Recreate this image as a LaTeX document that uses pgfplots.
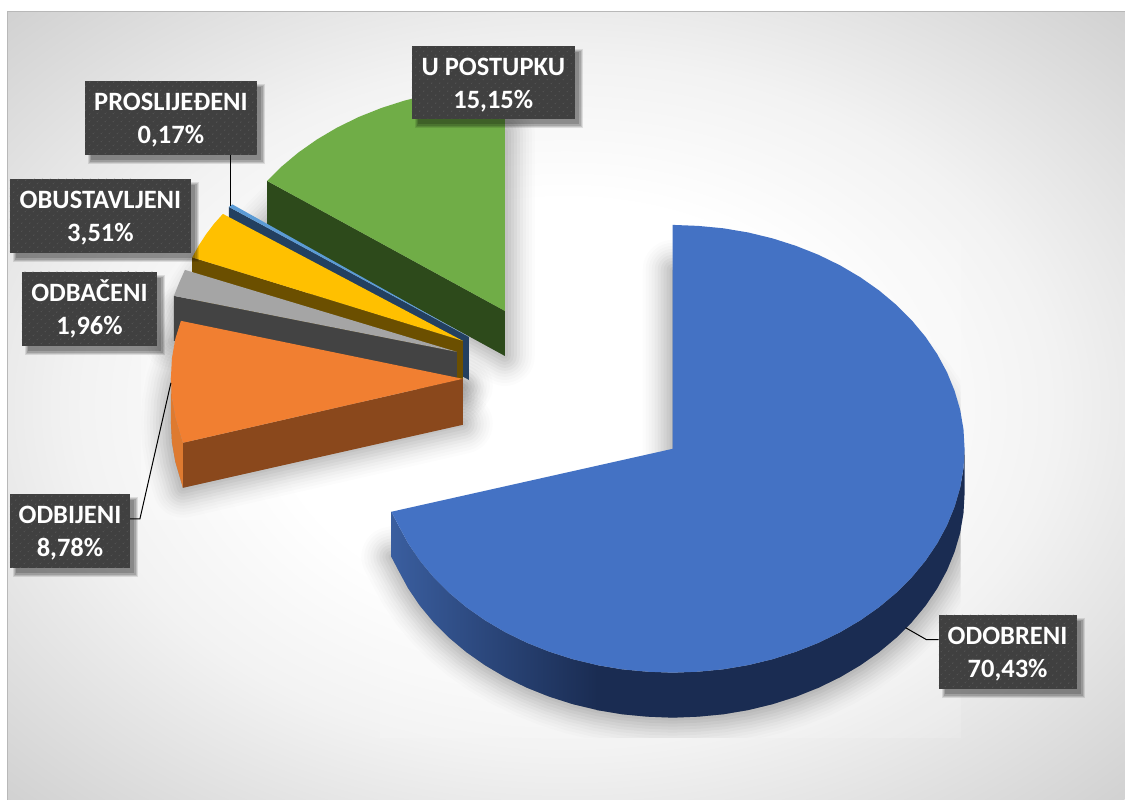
\documentclass[border=0pt]{standalone}
\usepackage{fontspec}
\setmainfont{Carlito}
\usepackage{pgfplots}
\usepackage{pgfplotstable}
\pgfplotsset{compat=1.18}
\usetikzlibrary{patterns.meta}

\definecolor{cblue}{HTML}{4472C4}
\definecolor{cbluedark}{HTML}{1A2C52}
\definecolor{cblueside}{HTML}{3A5E9F}
\definecolor{cgreen}{HTML}{70AD47}
\definecolor{cgreendark}{HTML}{2D4A1B}
\definecolor{cthin}{HTML}{5B9BD5}
\definecolor{cthindark}{HTML}{234060}
\definecolor{cyellow}{HTML}{FFC000}
\definecolor{cyellowdark}{HTML}{6B4F00}
\definecolor{cgray}{HTML}{A5A5A5}
\definecolor{cgraydark}{HTML}{434343}
\definecolor{corange}{HTML}{F17F31}
\definecolor{corangedark}{HTML}{8A481C}
\definecolor{corangeside}{HTML}{DE7A30}
\definecolor{boxgray}{HTML}{404040}
\definecolor{boxdot}{HTML}{5E5E5E}

\pgfdeclareradialshading{pagebg}{\pgfpoint{0bp}{0bp}}{%
  color(0bp)=(white);color(13bp)=(white);
  color(22bp)=(white!95!black);color(35.4bp)=(white!82!black);color(50bp)=(white!75!black);color(53bp)=(white!74!black)}

% slices, in pixels of the picture
\pgfplotstableread{
x y
673 449
673 225
698.5 226
723.7 228.4
748.6 232.6
772.9 238.5
796.4 246
819 255
840.5 265.5
860.7 277.4
879.5 290.6
896.7 305
912.2 320.5
925.9 337
937.6 354.3
947.4 372.4
955 391
960.6 410.1
963.9 429.5
965 449
963.9 468.5
960.6 487.9
955 507
947.4 525.6
937.6 543.7
925.9 561
912.2 577.5
896.7 593
879.5 607.4
860.7 620.6
840.5 632.5
819 643
796.4 652
772.9 659.5
748.6 665.4
723.7 669.6
698.5 672
673 673
647.5 672
622.3 669.6
597.4 665.4
573.1 659.5
549.6 652
527 643
505.5 632.5
485.3 620.6
466.5 607.4
449.3 593
433.8 577.5
420.1 561
408.4 543.7
398.6 525.6
391.5 512
}\odobreni
\pgfplotstableread{
x y
505 311
505 87
479.5 87.9
454.3 90.4
429.4 94.6
405.1 100.5
381.6 108
359 117
337.5 127.5
317.3 139.4
298.5 152.6
281.3 167
267.3 181
}\upostupku
\pgfplotstableread{
x y
469 337
232.5 204.5
229 207
}\proslijedeni
\pgfplotstableread{
x y
463 341
223 214
214 224
206.4 234.1
199 245.3
192.3 257.5
}\obustavljeni
\pgfplotstableread{
x y
457 352
185 270
179.3 282.8
174 296
}\odbaceni
\pgfplotstableread{
x y
463 379
181 321
175.4 339
172 358.5
171 378
172 397.5
175.4 417
183 443
}\odbijeni

\newcommand{\shlayer}[3]{\addplot[draw=black,line width=#2bp,line join=round,opacity=#3,yshift=-45bp] table {#1} --cycle;}
\newcommand{\softshadow}[1]{%
  \shlayer{#1}{60}{.012}\shlayer{#1}{54}{.014}\shlayer{#1}{48}{.017}\shlayer{#1}{42}{.02}
  \shlayer{#1}{36}{.024}\shlayer{#1}{30}{.028}\shlayer{#1}{24}{.03}\shlayer{#1}{18}{.032}
  \shlayer{#1}{12}{.034}\shlayer{#1}{6}{.036}
  \addplot[fill=black,draw=none,opacity=.25,yshift=-45bp] table {#1} --cycle;
}
\newcommand{\lab}[6]{%
  \fill[black,opacity=.10] (axis cs:{#1+3},{#2+3}) rectangle (axis cs:{#3+8},{#4+9});
  \fill[black,opacity=.12] (axis cs:{#1+4},{#2+4}) rectangle (axis cs:{#3+7},{#4+8});
  \fill[black,opacity=.14] (axis cs:{#1+5},{#2+5}) rectangle (axis cs:{#3+6},{#4+7});
  \fill[black,opacity=.16] (axis cs:{#1+6},{#2+6}) rectangle (axis cs:{#3+4},{#4+5});
  \fill[boxgray] (axis cs:#1,#2) rectangle (axis cs:#3,#4);
  \fill[pattern={Dots[distance=6bp,angle=45,radius=.75bp]},pattern color=boxdot]
    (axis cs:#1,#2) rectangle (axis cs:#3,#4);
  \node[anchor=base,white,inner sep=0pt,font=\bfseries\fontsize{26.6}{30}\selectfont]
    at (axis cs:{(#1+#3)/2},{#2+29.5}) {#5};
  \node[anchor=base,white,inner sep=0pt,font=\bfseries\fontsize{26.6}{30}\selectfont]
    at (axis cs:{(#1+#3)/2},{#2+62.5}) {#6};
}

\begin{document}
\begin{tikzpicture}
\begin{axis}[
  scale only axis,
  width=1125bp,height=800bp,
  xmin=0,xmax=1125,ymin=0,ymax=800,
  y dir=reverse,
  hide axis,
  clip=false,
]
  % page, with its white margin
  \addplot[fill=white,draw=none] coordinates {(0,0) (1125,0) (1125,800) (0,800)} --cycle;
  \addplot[shading=pagebg,draw=none] coordinates {(8,12) (1125,12) (1125,800) (8,800)} --cycle;
  \addplot[draw=black!28,line width=1bp] coordinates {(8,800) (8,12) (1125,12)};

  % lighter boxes left by the shadows
  \addplot[fill=white,draw=none,opacity=.25] coordinates {(141,355) (480,355) (480,520) (141,520)} --cycle;
  \addplot[fill=white,draw=none,opacity=.15] coordinates {(380,240) (961,240) (961,738) (380,738)} --cycle;

  % shadows
  \begin{scope}
    \clip (axis cs:141,0) rectangle (axis cs:961,738);
    \softshadow{\upostupku}
    \softshadow{\obustavljeni}
    \softshadow{\odbaceni}
    \softshadow{\odbijeni}
    \softshadow{\odobreni}
  \end{scope}

  % U POSTUPKU
  \addplot[fill=cgreendark,draw=none] coordinates {(505,311) (267.3,181) (267.3,226) (505,356)} --cycle;
  \addplot[fill=cgreen,draw=none] table {\upostupku} --cycle;

  % PROSLIJEDENI
  \addplot[fill=cthindark,draw=none] coordinates {(229,207) (469,337) (469,380) (229,250)} --cycle;
  \addplot[fill=cthin,draw=none] table {\proslijedeni} --cycle;

  % OBUSTAVLJENI
  \addplot[fill=cyellowdark,draw=none] coordinates {(463,341) (192.3,257.5) (192.3,302.5) (463,386)} --cycle;
  \addplot[fill=cyellow,draw=none] table {\obustavljeni} --cycle;

  % ODBACENI
  \addplot[fill=cgraydark,draw=none] coordinates {(457,352) (174,296) (174,341) (457,397)} --cycle;
  \addplot[fill=cgray,draw=none] table {\odbaceni} --cycle;

  % ODBIJENI
  \addplot[fill=corangedark,draw=none] coordinates {(463,379) (183,443) (183,488) (463,425)} --cycle;
  \addplot[fill=corangeside,draw=none] coordinates {(171,378) (172,397.5) (175.4,417) (183,443) (183,488) (175.4,462) (172,442.5) (171,423)} --cycle;
  \addplot[fill=corange,draw=none] table {\odbijeni} --cycle;

  % ODOBRENI
  \addplot[left color=cblueside,right color=cbluedark,draw=none] coordinates {
    (598,665.4) (573.1,659.5) (549.6,652) (527,643) (505.5,632.5) (485.3,620.6) (466.5,607.4)
    (449.3,593) (433.8,577.5) (420.1,561) (408.4,543.7) (398.6,525.6) (391.5,512)
    (391.5,557) (398.6,570.6) (408.4,588.7) (420.1,606) (433.8,622.5) (449.3,638) (466.5,652.4)
    (485.3,665.6) (505.5,677.5) (527,688) (549.6,697) (573.1,704.5) (598,710.4)} --cycle;
  \addplot[fill=cbluedark,draw=none] coordinates {
    (965,449) (963.9,468.5) (960.6,487.9) (955,507) (947.4,525.6) (937.6,543.7) (925.9,561)
    (912.2,577.5) (896.7,593) (879.5,607.4) (860.7,620.6) (840.5,632.5) (819,643) (796.4,652)
    (772.9,659.5) (748.6,665.4) (723.7,669.6) (698.5,672) (673,673) (647.5,672) (622.3,669.6) (597,665.4)
    (597,710.4) (622.3,714.6) (647.5,717) (673,718) (698.5,717) (723.7,714.6) (748.6,710.4)
    (772.9,704.5) (796.4,697) (819,688) (840.5,677.5) (860.7,665.6) (879.5,652.4) (896.7,638)
    (912.2,622.5) (925.9,606) (937.6,588.7) (947.4,570.6) (955,552) (960.6,532.9) (963.9,513.5) (965,494)} --cycle;
  \addplot[fill=cblue,draw=none] table {\odobreni} --cycle;

  % leader lines
  \addplot[black,line width=1bp] coordinates {(230.5,155) (230.5,206)};
  \addplot[black,line width=1bp] coordinates {(129,519) (140,519) (171,383)};
  \addplot[black,line width=1bp] coordinates {(939,640) (927,640) (906,628)};

  % labels
  \lab{412}{46}{575}{119}{U POSTUPKU}{15,15\%}
  \lab{85}{81}{257}{155}{PROSLIJEĐENI}{0,17\%}
  \lab{10}{179}{191}{253}{OBUSTAVLJENI}{3,51\%}
  \lab{22}{272}{157}{346}{ODBAČENI}{1,96\%}
  \lab{10}{494}{130}{568}{ODBIJENI}{8,78\%}
  \lab{939}{615}{1077}{689}{ODOBRENI}{70,43\%}
\end{axis}
\end{tikzpicture}
\end{document}
